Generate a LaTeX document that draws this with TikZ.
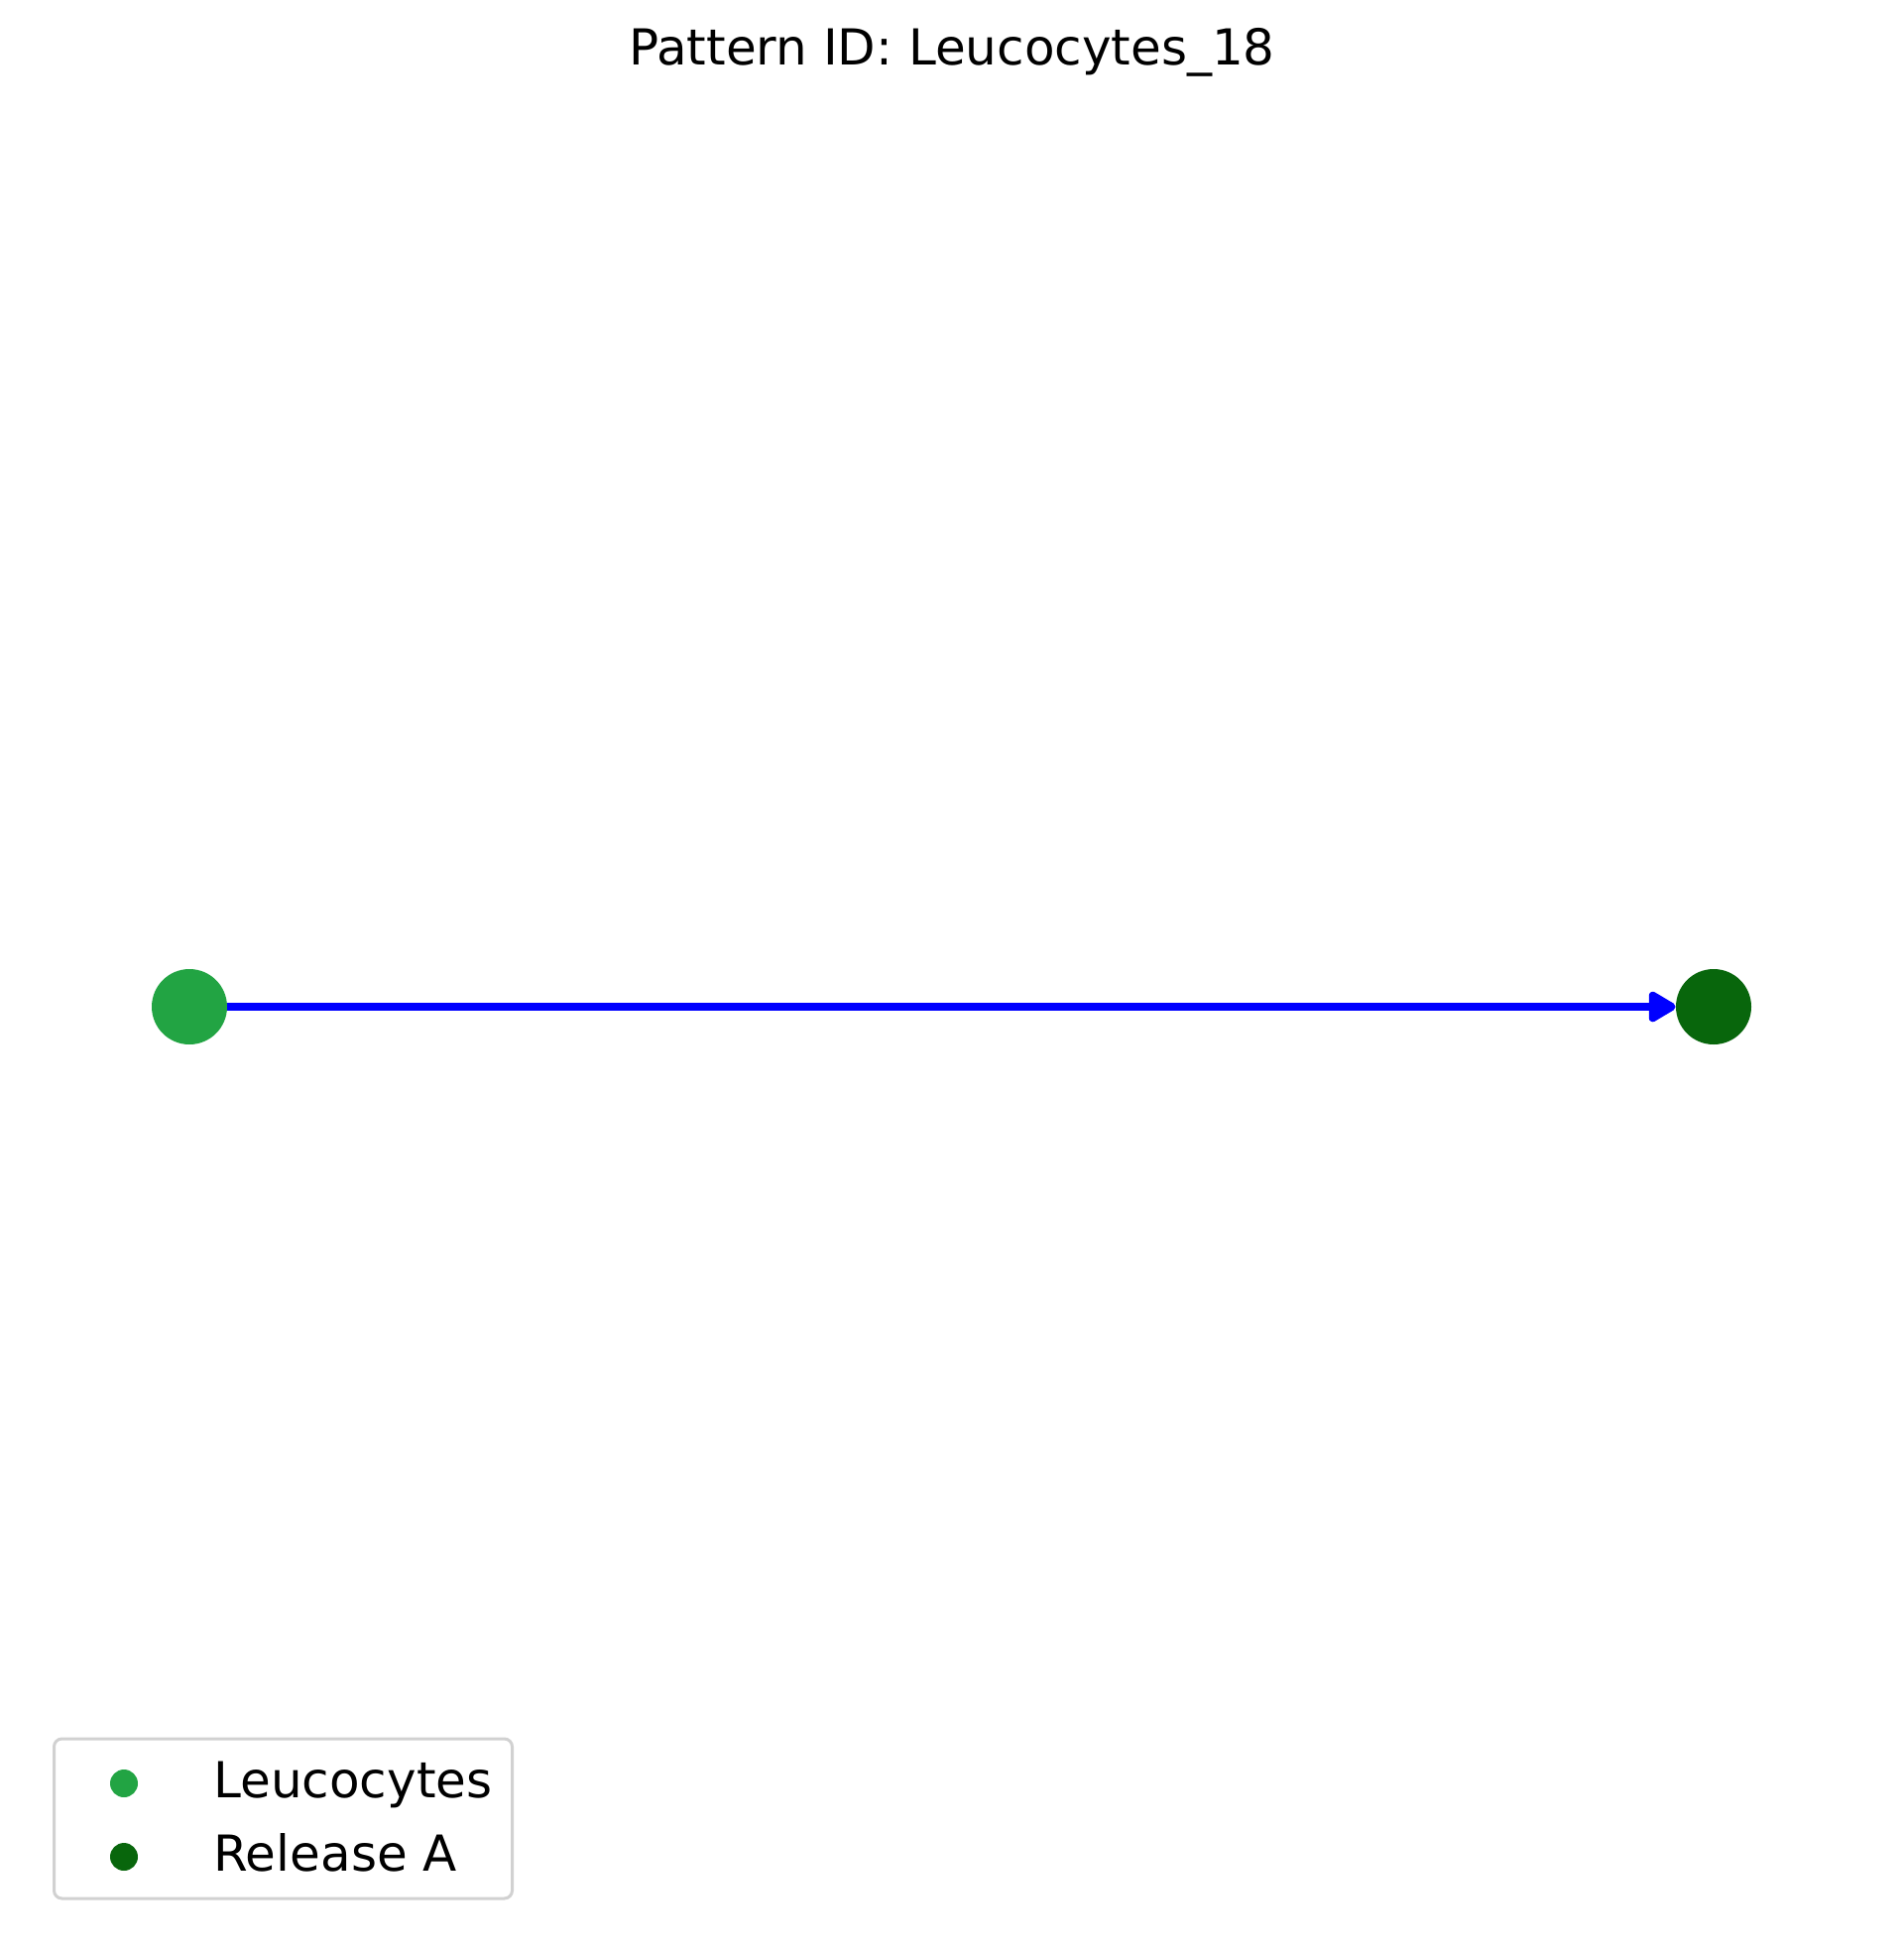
\documentclass[tikz,border=0pt]{standalone}
\usepackage{fontspec}
\setmainfont{DejaVu Sans}
\usetikzlibrary{arrows.meta, positioning}
\definecolor{leucgreen}{RGB}{34,164,67}
\definecolor{relgreen}{RGB}{8,102,12}
\tikzset{
    figbase/.style={x=0.5pt, y=-0.5pt, font=\fontsize{25pt}{30pt}\selectfont},
    cell/.style={circle, inner sep=0pt, minimum size=38pt},
    legmark/.style={circle, inner sep=0pt, minimum size=14pt},
    legtext/.style={anchor=base west, inner sep=0pt},
    flow/.style={draw=blue, line width=4pt, -{Triangle[length=15.5pt, width=17pt, round]}},
}
\begin{document}
\begin{tikzpicture}[figbase]
\useasboundingbox (0,0) rectangle (1919,1969);

% ===================== TITLE =====================
\node[anchor=base, inner sep=0pt] (title) at (960,66) {Pattern ID: Leucocytes\_18};

% ===================== PATTERN =====================
\node[cell, fill=leucgreen] (leuc) at (191,1015) {};
\node[cell, fill=relgreen] (rel) at (1728,1015) {};
\draw[flow] (leuc) -- (rel);

% ===================== LEGEND =====================
\node[draw=black!18, line width=1.5pt, rounded corners=4pt, minimum width=231pt, minimum height=80.5pt, inner sep=0pt] (legend) at (285.5,1833.5) {};
\node[legmark, fill=leucgreen] (lg_leuc) at (125,1798) {};
\node[legmark, fill=relgreen] (lg_rel) at (125,1872) {};
\node[legtext] (lt_leuc) at (215,1812) {Leucocytes};
\node[legtext] (lt_rel) at (215,1886) {Release A};

\end{tikzpicture}
\end{document}
